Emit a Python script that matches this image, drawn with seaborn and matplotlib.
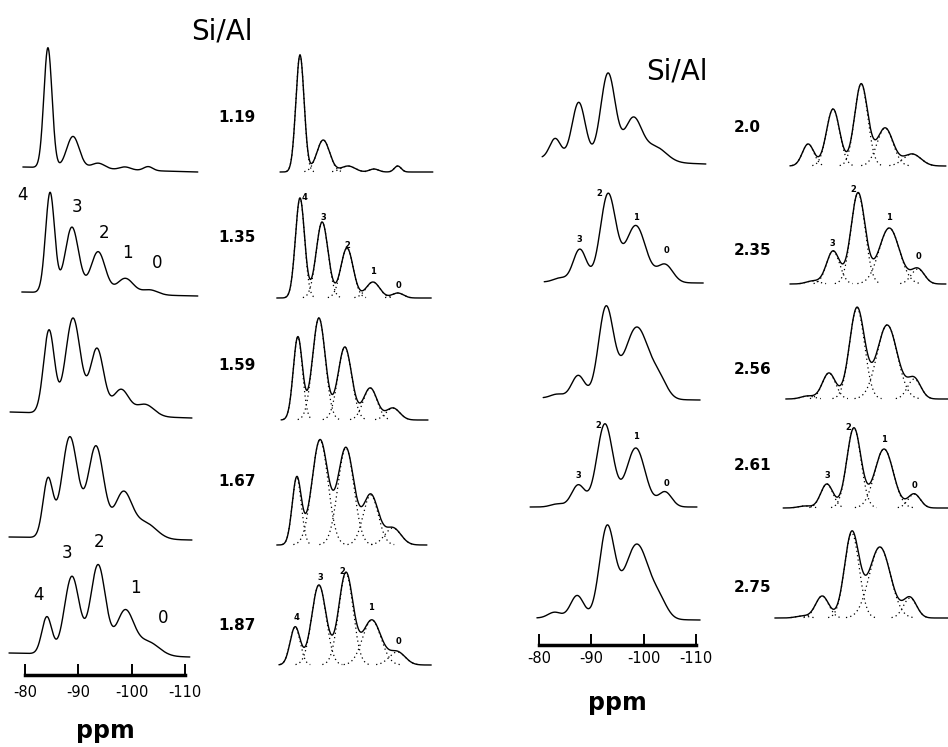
import numpy as np
import matplotlib
matplotlib.use("Agg")
import matplotlib.pyplot as plt
import seaborn as sns

W, H = 948, 747

# Si/Al ratios of the samples
ratios_left = ["1.19", "1.35", "1.59", "1.67", "1.87"]
ratios_right = ["2.0", "2.35", "2.56", "2.61", "2.75"]
ppm_ticks = [-80, -90, -100, -110]
peak_names = ["4", "3", "2", "1", "0"]

# --- experimental spectra, Si/Al 1.19 .. 1.87 ---
# peak centre (ppm), height, fwhm (ppm) for Si(4Al) .. Si(0Al)
expL_pos = [[-84.3, -89.0, -93.7, -98.75, -103.1],
            [-84.7, -88.8, -93.7, -98.8, -103.4],
            [-84.5, -89.0, -93.5, -98.0, -102.5],
            [-84.3, -88.4, -93.3, -98.4, -102.5],
            [-84.1, -88.8, -93.7, -98.75, -103.0]]
expL_hgt = [[120, 32, 6, 3, 4],
            [100, 66, 42, 16, 5],
            [83, 96, 66, 26, 12],
            [58, 101, 92, 45, 16],
            [37, 78, 90, 44, 14]]
expL_fwhm = [[1.8, 2.8, 3.0, 2.5, 2.0],
             [2.0, 3.0, 3.2, 3.6, 3.5],
             [2.4, 3.3, 3.0, 3.5, 4.0],
             [2.2, 3.5, 3.5, 3.8, 5.0],
             [2.2, 3.3, 3.3, 3.8, 5.0]]
expL_span = [(-79.6, -112.4), (-79.4, -112.4), (-77.2, -111.3), (-77.0, -111.3), (-77.0, -110.9)]
expL_drift = [5, 4, 6, 3, 4]

# --- deconvoluted spectra, Si/Al 1.19 .. 1.87 ---
fitL_pos = [[-85.0, -89.3, -93.9, -98.7, -103.1],
            [-85.0, -89.1, -93.7, -98.5, -103.1],
            [-84.6, -88.5, -93.3, -98.0, -102.2],
            [-84.4, -88.7, -93.5, -98.1, -102.2],
            [-84.1, -88.5, -93.5, -98.3, -103.0]]
fitL_hgt = [[117, 32, 6, 3, 6],
            [100, 76, 50, 16, 5],
            [83, 102, 73, 32, 12],
            [67, 105, 97, 50, 17],
            [38, 80, 92, 45, 13]]
fitL_fwhm = [[1.8, 2.8, 3.0, 2.0, 1.5],
             [2.0, 2.6, 2.7, 3.0, 2.5],
             [2.0, 2.8, 3.0, 3.0, 3.0],
             [2.0, 3.5, 3.5, 3.3, 3.5],
             [2.2, 3.15, 3.15, 4.0, 3.5]]
fitL_span = [(-81.3, -109.6), (-80.7, -109.3), (-81.5, -108.7), (-80.7, -108.5), (-81.1, -109.3)]

# --- experimental spectra, Si/Al 2.0 .. 2.75 ---
expR_pos = [[-83.1, -87.6, -93.2, -98.0, -102.2],
            [-84.0, -87.8, -93.2, -98.5, -104.1],
            [-83.5, -87.5, -92.8, -98.7, -103.1],
            [-83.5, -87.5, -92.6, -98.5, -104.1],
            [-83.0, -87.3, -93.0, -98.7, -103.1]]
expR_hgt = [[20, 57, 87, 42, 15],
            [4, 33, 88, 57, 18],
            [4, 23, 90, 72, 15],
            [3, 22, 83, 59, 15],
            [6, 23, 90, 75, 14]]
expR_fwhm = [[2.5, 3.0, 3.3, 3.8, 5.0],
             [3.0, 3.0, 3.5, 4.5, 3.5],
             [3.0, 3.0, 3.4, 5.5, 3.5],
             [3.0, 3.0, 3.6, 4.2, 3.0],
             [3.0, 3.0, 3.4, 5.5, 3.5]]
expR_span = [(-80.6, -111.9), (-81.0, -111.4), (-80.8, -110.8), (-78.3, -110.2), (-79.6, -110.8)]
expR_drift = [6, 1, 2, 0, 2]

# --- deconvoluted spectra, Si/Al 2.0 .. 2.75 ---
fitR_pos = [[-83.1, -87.9, -93.3, -97.9, -103.1],
            [-84.0, -87.9, -92.7, -98.7, -104.2],
            [-83.0, -87.1, -92.5, -98.3, -103.5],
            [-82.5, -86.7, -91.9, -97.7, -103.5],
            [-82.0, -85.8, -91.5, -96.9, -102.7]]
fitR_hgt = [[22, 57, 82, 38, 12],
            [3, 33, 91, 56, 15],
            [3, 26, 91, 74, 20],
            [2, 24, 80, 59, 14],
            [2, 22, 85, 71, 20]]
fitR_fwhm = [[2.6, 3.0, 3.0, 3.6, 4.0],
             [3.0, 3.0, 3.2, 4.6, 3.0],
             [3.0, 3.0, 3.4, 4.6, 3.0],
             [3.0, 2.8, 3.2, 4.2, 2.8],
             [3.0, 3.0, 3.3, 4.8, 3.0]]
fitR_span = [(-79.6, -109.6), (-79.6, -109.6), (-78.8, -110.0), (-78.3, -110.0), (-76.7, -110.0)]

sns.set_style("white")
plt.rcParams['font.family'] = ['DejaVu Sans']
plt.rcParams['text.color'] = 'black'
plt.rcParams['xtick.color'] = 'black'
plt.rcParams['axes.labelcolor'] = 'black'

fig = plt.figure(figsize=(W / 100, H / 100), dpi=100)


def gauss(ppm, centre, height, fwhm):
    return height * np.exp(-4 * np.log(2) * ((ppm - centre) / fwhm) ** 2)


def column_axes(x0, x1, px80, scale):
    # x in ppm, y in pixels from the bottom of the figure
    ax = fig.add_axes([x0 / W, 0, (x1 - x0) / W, 1])
    ax.set_facecolor("none")
    ax.set_xlim(-80 - (x0 - px80) / scale, -80 - (x1 - px80) / scale)
    ax.set_ylim(0, H)
    ax.set_axis_off()
    return ax


def draw(ax, pos, hgt, fwhm, span, base, drift, components):
    ppm = np.linspace(span[0], span[1], 700)
    frac = (ppm - span[0]) / (span[1] - span[0])
    y0 = H - base - drift * frac
    parts = [gauss(ppm, c, h, w) for c, h, w in zip(pos, hgt, fwhm)]
    total = np.sum(parts, axis=0)
    if components:
        for p in parts:
            m = p > 0.4
            sns.lineplot(x=ppm[m], y=y0[m] + p[m], ax=ax, color="k", lw=0.9,
                         linestyle=(0, (1, 2.5)), sort=False, estimator=None)
    sns.lineplot(x=ppm, y=y0 + total, ax=ax, color="k", lw=1.0,
                 sort=False, estimator=None)


def scale_bar(px_left, px_right, y_px, pad, labelpad):
    ax = fig.add_axes([px_left / W, 1 - y_px / H, (px_right - px_left) / W, 0.03])
    ax.set_facecolor("none")
    ax.set_xlim(-80, -110)
    for s in ["top", "left", "right"]:
        ax.spines[s].set_visible(False)
    ax.spines["bottom"].set_linewidth(2.5)
    ax.spines["bottom"].set_color("k")
    ax.set_yticks([])
    ax.set_xticks(ppm_ticks)
    ax.set_xticklabels([str(t) for t in ppm_ticks])
    ax.tick_params(axis="x", direction="in", length=8, width=1.4, color="k",
                   labelsize=10.5, pad=pad, bottom=True)
    ax.set_xlabel("ppm", fontsize=17, fontweight="bold", labelpad=labelpad)


def ftext(x, y, s, **kw):
    fig.text(x / W, 1 - y / H, s, **kw)


rowsA = [167, 292, 412, 537, 653]
rowsB = [172, 298, 420, 545, 665]
rowsC = [158, 282, 398, 507, 618]
rowsD = [166, 284, 399, 508, 618]

axA = column_axes(0, 215, 25, 5.333)
axB = column_axes(265, 470, 273, 5.4)
axC = column_axes(525, 715, 539, 5.23)
axD = column_axes(770, 948, 792, 5.2)

for i in range(5):
    draw(axA, expL_pos[i], expL_hgt[i], expL_fwhm[i], expL_span[i], rowsA[i], expL_drift[i], False)
    draw(axB, fitL_pos[i], fitL_hgt[i], fitL_fwhm[i], fitL_span[i], rowsB[i], 0, True)
    draw(axC, expR_pos[i], expR_hgt[i], expR_fwhm[i], expR_span[i], rowsC[i], expR_drift[i], False)
    draw(axD, fitR_pos[i], fitR_hgt[i], fitR_fwhm[i], fitR_span[i], rowsD[i], 0, True)

scale_bar(25, 185, 675, 7, 14)
scale_bar(539, 696, 645, 4, 18)

# titles and ratio labels
ftext(222, 32, "Si/Al", fontsize=20, ha="center", va="center")
ftext(677, 71, "Si/Al", fontsize=20, ha="center", va="center")
for y, r in zip([118, 238, 366, 481, 626], ratios_left):
    ftext(218, y, r, fontsize=11, fontweight="bold", ha="left", va="center")
for y, r in zip([128, 251, 370, 466, 588], ratios_right):
    ftext(734, y, r, fontsize=11, fontweight="bold", ha="left", va="center")

# peak labels, large (left experimental)
for xy, n in zip([(22, 195), (77, 207), (104, 233), (127, 253), (157, 263)], peak_names):
    ftext(*xy, n, fontsize=12, ha="center", va="center")
for xy, n in zip([(39, 595), (67, 553), (99, 542), (135, 588), (163, 618)], peak_names):
    ftext(*xy, n, fontsize=12, ha="center", va="center")

# small peak labels
small = [
    ([(305, 197), (323, 218), (347, 245), (373, 272), (398, 286)], peak_names),
    ([(296, 617), (320, 578), (342, 571), (371, 607), (398, 642)], peak_names),
    ([(579, 239), (599, 193), (636, 218), (666, 251)], peak_names[1:]),
    ([(578, 475), (598, 425), (636, 437), (666, 483)], peak_names[1:]),
    ([(832, 243), (853, 190), (889, 218), (918, 256)], peak_names[1:]),
    ([(827, 475), (848, 427), (884, 440), (914, 486)], peak_names[1:]),
]
for pts, names in small:
    for xy, n in zip(pts, names):
        ftext(*xy, n, fontsize=6, fontweight="bold", ha="center", va="center")

fig.savefig("out.png", dpi=100)
